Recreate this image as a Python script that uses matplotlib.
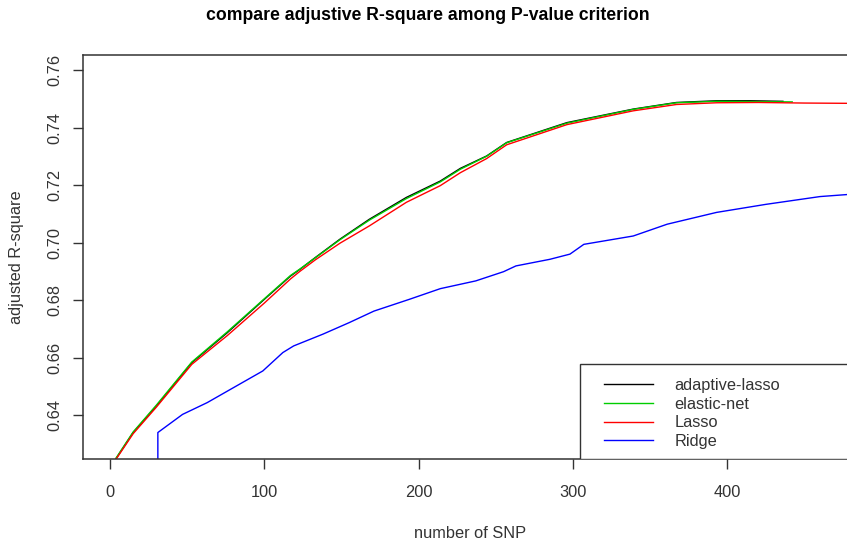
#!/usr/bin/env python3
# -*- coding: utf-8 -*-
"""
compare adjusted R-square of the penalised models against number of SNP
"""

import matplotlib
matplotlib.use('Agg')
import matplotlib.pyplot as plt
from matplotlib.patches import Rectangle

plt.rcParams['font.family'] = ['Liberation Sans', 'DejaVu Sans']

# values
adaLassoX = [4, 15, 30, 53, 76, 100, 117, 123, 133, 149, 168, 192, 214, 227, 244, 257, 296, 339, 367, 393, 415, 436]
adaLassoY = [0.6250, 0.6340, 0.6432, 0.6583, 0.6687, 0.6803, 0.6884, 0.6907, 0.6948, 0.7012, 0.7081, 0.7157,
             0.7214, 0.7258, 0.7301, 0.7348, 0.7417, 0.7464, 0.7487, 0.7493, 0.7493, 0.7491]

elasticX = [4, 15, 30, 53, 76, 100, 117, 123, 133, 149, 168, 192, 214, 227, 244, 257, 296, 339, 367, 393, 420, 442]
elasticY = [0.6252, 0.6342, 0.6435, 0.6585, 0.6690, 0.6805, 0.6886, 0.6908, 0.6947, 0.7010, 0.7078, 0.7153,
            0.7211, 0.7255, 0.7300, 0.7347, 0.7415, 0.7463, 0.7486, 0.7491, 0.7490, 0.7489]

lassoX = [4, 15, 30, 53, 76, 100, 117, 123, 133, 149, 168, 192, 214, 227, 244, 257, 296, 339, 367, 393, 420, 450, 480]
lassoY = [0.6248, 0.6336, 0.6428, 0.6577, 0.6677, 0.6790, 0.6874, 0.6900, 0.6940, 0.6998, 0.7058, 0.7140,
          0.7198, 0.7243, 0.7292, 0.7340, 0.7410, 0.7458, 0.7480, 0.7486, 0.7487, 0.7485, 0.7484]

ridgeX = [31, 31, 47, 63, 80, 99, 112, 119, 138, 155, 171, 194, 214, 237, 255, 263, 285, 298, 307, 339, 361, 393,
          425, 460, 480]
ridgeY = [0.6200, 0.6340, 0.6403, 0.6444, 0.6496, 0.6554, 0.6618, 0.6641, 0.6682, 0.6722, 0.6762, 0.6803,
          0.6840, 0.6867, 0.6899, 0.6919, 0.6942, 0.6960, 0.6994, 0.7023, 0.7064, 0.7105, 0.7133, 0.7160, 0.7168]

seriesNames = ['adaptive-lasso', 'elastic-net', 'Lasso', 'Ridge']
seriesColors = ['black', '#00cd00', '#ff0000', '#0000ff']

xTicks = [0, 100, 200, 300, 400]
yTicks = [0.64, 0.66, 0.68, 0.70, 0.72, 0.74, 0.76]

W, H = 847, 545
fig = plt.figure(figsize=(W / 100, H / 100), dpi=100)
ax = fig.add_axes([83 / W, 1 - 459 / H, (849 - 83) / W, (459 - 55) / H])

allX = [adaLassoX, elasticX, lassoX, ridgeX]
allY = [adaLassoY, elasticY, lassoY, ridgeY]
for xs, ys, name, col in zip(allX, allY, seriesNames, seriesColors):
    ax.plot(xs, ys, color=col, lw=1.0, label=name)

ax.set_xlim(-17.5, 478.8)
ax.set_ylim(0.6248, 0.7652)
ax.set_xticks(xTicks)
ax.set_xticklabels([str(t) for t in xTicks])
ax.set_yticks(yTicks)
ax.set_yticklabels(['%.2f' % t for t in yTicks], rotation=90, va='center')
ax.tick_params(axis='x', length=7, width=1, pad=12, labelsize=11.8, colors='#333333')
ax.tick_params(axis='y', length=7, width=1, pad=8, labelsize=11.8, colors='#333333')
for sp in ax.spines.values():
    sp.set_color('#333333')
    sp.set_linewidth(1.1)

fig.text(428 / W, 1 - 16 / H, 'compare adjustive R-square among P-value criterion',
         ha='center', va='center', fontsize=12.7, fontweight='bold')
fig.text(470 / W, 1 - 534 / H, 'number of SNP', ha='center', va='center', fontsize=11.8, color='#333333')
fig.text(17 / W, 1 - 257 / H, 'adjusted R-square', ha='center', va='center', rotation=90,
         fontsize=11.8, color='#333333')

# legend box sits in the bottom right corner like R's legend("bottomright")
corner = ax.transAxes.inverted().transform(fig.transFigure.transform((580 / W, 1 - 364 / H)))
box = Rectangle((corner[0], 0), 1.0 - corner[0], corner[1], transform=ax.transAxes, fill=True,
                facecolor='white', edgecolor='#333333', lw=1.0, zorder=3)
ax.add_patch(box)
leg = ax.legend(loc='upper left', bbox_to_anchor=((604 - 83) / (849 - 83), corner[1] - 0.035),
                frameon=False, fontsize=11.8, handlelength=3.0, handletextpad=1.3,
                labelspacing=0.22, borderpad=0, borderaxespad=0)
leg.set_zorder(4)
for t in leg.get_texts():
    t.set_color('#333333')

fig.savefig('out.png', dpi=100)
